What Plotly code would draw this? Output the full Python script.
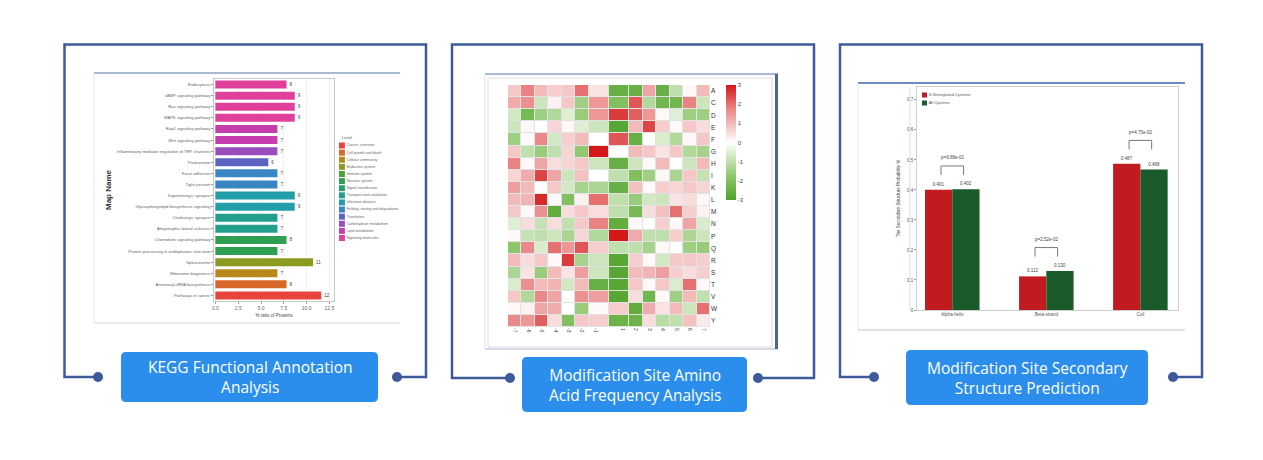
import plotly.graph_objects as go

W, H = 1263, 460


def X(p):
    return p / W


def Y(p):
    return 1 - p / H


# ---------------- Panel 1: KEGG functional annotation ----------------
kegg_pathways = [
    "Endocytosis", "cAMP signaling pathway", "Ras signaling pathway",
    "MAPK signaling pathway", "Rap1 signaling pathway", "Wnt signaling pathway",
    "Inflammatory mediator regulation of TRP channels", "Proteasome",
    "Focal adhesion", "Tight junction", "Dopaminergic synapse",
    "Glycosphingolipid biosynthesis signaling", "Cholinergic synapse",
    "Amyotrophic lateral sclerosis", "Chemokine signaling pathway",
    "Protein processing in endoplasmic reticulum", "Spliceosome",
    "Ribosome biogenesis", "Aminoacyl-tRNA biosynthesis", "Pathways in cancer",
]
kegg_ratio = [7.8, 8.7, 8.7, 8.7, 6.8, 6.8, 6.8, 5.8, 6.8, 6.8,
              8.7, 8.7, 6.8, 6.8, 7.8, 6.8, 10.7, 6.8, 7.8, 11.6]
kegg_counts = [8, 9, 9, 9, 7, 7, 7, 6, 7, 7, 9, 9, 7, 7, 8, 7, 11, 7, 8, 12]
kegg_class_idx = [13, 13, 13, 13, 12, 12, 11, 10, 9, 9, 8, 8, 7, 7, 5, 5, 3, 2, 1, 0]
kegg_classes = [
    "Cancer: overview", "Cell growth and death", "Cellular community",
    "Endocrine system", "Immune system", "Nervous system",
    "Signal transduction", "Transport and catabolism", "Infectious disease",
    "Folding, sorting and degradation", "Translation",
    "Carbohydrate metabolism", "Lipid metabolism", "Signaling molecules",
]
kegg_palette = [
    "#e8443c", "#d8682a", "#b8881e", "#8c9a22", "#4ea23e", "#2fa052",
    "#26a070", "#22a08c", "#229ea8", "#3a86c4", "#5c62c0", "#9a4cbc",
    "#c63eae", "#e0409c",
]
kegg_xticks = [0, 2.5, 5, 7.5, 10, 12.5]
kegg_xticktext = ["0.0", "2.5", "5.0", "7.5", "10.0", "12.5"]

# ---------------- Panel 2: amino acid frequency heatmap ----------------
aa_rows = ["A", "C", "D", "E", "F", "G", "H", "I", "K", "L",
           "M", "N", "P", "Q", "R", "S", "T", "V", "W", "Y"]
aa_positions = ["-7", "-6", "-5", "-4", "-3", "-2", "-1",
                "1", "2", "3", "4", "5", "6", "7"]
aa_z = [
    [0.8, 1.8, 1.0, 0.7, 0.8, 2.0, 0.4, -2.5, -2.5, 1.3, -2.5, -1.0, 0.1, 1.0],
    [1.2, 1.6, -0.8, 0.2, 0.8, -1.5, 1.5, -2.0, 2.3, -1.2, -2.3, -2.3, 1.8, -0.8],
    [-0.7, -2.2, -1.5, -1.2, -0.5, -1.6, 1.5, 2.6, 2.2, 1.5, 0.1, -0.5, -1.5, -1.5],
    [-0.8, 0.1, 0.0, 0.6, 0.1, -0.5, -0.8, -2.8, 1.0, 2.5, 0.7, 0.1, 0.8, 0.5],
    [-1.5, 0.1, 1.7, -0.7, 0.7, 1.0, 0.0, 2.3, -2.5, 0.0, -0.6, -1.2, 0.1, 0.8],
    [0.8, -1.0, -1.6, -1.0, 0.6, -1.7, 3.0, 0.0, 1.0, 0.8, 0.4, 0.8, -1.2, -1.4],
    [1.8, 0.1, 1.3, 0.5, 0.6, 0.8, -0.8, -2.5, -0.8, 0.1, 1.0, 0.0, -0.8, 1.0],
    [0.6, 1.2, 2.5, 1.3, -0.8, 0.9, 0.0, -1.0, -2.0, -1.5, 0.1, -1.3, 0.8, -0.9],
    [1.4, 1.0, 0.0, 0.8, -0.7, -1.4, -1.3, -2.5, 0.9, 0.1, 0.7, 0.6, 0.8, 0.6],
    [1.0, 1.1, 2.8, 0.1, -2.0, 0.2, 2.0, -1.0, -1.6, -0.7, -0.8, 0.4, 0.5, 0.1],
    [0.8, 0.1, 1.6, -2.6, 0.5, 0.8, 0.5, -1.0, -2.2, 0.5, 0.9, 2.0, 0.7, 0.2],
    [-0.5, 0.5, -0.9, 0.5, -1.0, 0.8, 1.8, -2.6, 0.1, 0.0, 0.7, 0.1, 1.3, -0.6],
    [0.1, -0.9, -1.0, -0.8, -1.3, 0.6, -1.2, 3.0, 1.2, -1.0, -1.0, 0.7, -1.3, -0.8],
    [-1.8, 1.7, -0.6, 2.0, 1.5, 2.3, 0.7, -1.0, -1.0, -1.4, 0.1, 0.0, -1.5, -1.6],
    [1.0, 0.5, 0.8, 0.1, 2.6, -1.4, -0.8, -2.8, 0.7, 0.1, -0.7, 0.8, 0.8, 0.7],
    [-1.3, 0.4, -1.6, 1.0, 0.4, 1.4, -0.8, -2.8, 1.0, 1.1, 1.4, 0.7, 0.5, 0.7],
    [-0.6, 1.6, 1.0, 1.1, -0.7, 1.0, -2.5, -2.8, 0.8, 0.1, 0.8, -0.6, 2.0, 0.1],
    [0.8, -1.2, 1.7, 1.3, 0.0, 1.6, 1.4, -2.8, 0.5, -2.3, 0.1, -1.5, 1.0, -1.0],
    [0.1, 0.2, 1.3, 1.2, 0.0, -1.6, 0.1, 0.7, -2.6, 1.2, 0.4, 1.0, -0.8, 2.0],
    [1.7, 1.5, 2.2, 0.5, -2.0, 0.8, 0.7, -2.4, -2.4, 0.5, -1.1, -1.0, 0.9, 0.3],
]
aa_colorbar_ticks = [3, 2, 1, 0, -1, -2, -3]
aa_colorbar_text = ["3", "2", "1", "0", "-1", "-2", "-3"]

# ---------------- Panel 3: secondary structure ----------------
ss_categories = ["Alpha-helix", "Beta-strand", "Coil"]
ss_groups = ["S-Nitrosylated Cysteine", "All Cysteine"]
ss_modified = [0.401, 0.112, 0.487]
ss_background = [0.402, 0.130, 0.468]
ss_pvalues = ["p=9.88e-01", "p=2.52e-02", "p=4.75e-02"]
ss_yticks = [0, 0.1, 0.2, 0.3, 0.4, 0.5, 0.6, 0.7]
ss_yticktext = ["0", "0.1", "0.2", "0.3", "0.4", "0.5", "0.6", "0.7"]

# ---------------- Captions ----------------
captions = [
    "KEGG Functional Annotation<br>Analysis",
    "Modification Site Amino<br>Acid Frequency Analysis",
    "Modification Site Secondary<br>Structure Prediction",
]

SMALL = "Liberation Sans, Arial, sans-serif"
FRAME = "#3d5a9b"
BOX = "#2b8eec"
RED = "#c21b1f"
GREEN = "#1b5a2b"

fig = go.Figure()

# Panel 1 bars
fig.add_trace(go.Bar(
    orientation="h", y=kegg_pathways, x=kegg_ratio,
    marker=dict(color=[kegg_palette[i] for i in kegg_class_idx], line_width=0),
    width=0.72, text=[str(c) for c in kegg_counts], textposition="outside",
    textfont=dict(size=4.5, color="#444", family=SMALL), cliponaxis=False,
    xaxis="x", yaxis="y", showlegend=False, hoverinfo="skip",
))
# Panel 1 legend (swatches)
fig.add_trace(go.Scatter(
    x=[0] * len(kegg_classes), y=list(range(len(kegg_classes))),
    mode="markers+text", text=kegg_classes, textposition="middle right",
    textfont=dict(size=3.6, color="#666", family=SMALL),
    marker=dict(symbol="square", size=6, color=kegg_palette, line_width=0),
    xaxis="x2", yaxis="y2", showlegend=False, hoverinfo="skip",
))

# Panel 2 heatmap
fig.add_trace(go.Heatmap(
    z=aa_z, x=aa_positions, y=aa_rows, zmin=-3, zmax=3,
    colorscale=[[0, "#4ea12a"], [0.2, "#8cc56a"], [0.5, "#ffffff"],
                [0.8, "#e98282"], [1, "#d41717"]],
    xgap=1, ygap=1, xaxis="x3", yaxis="y3", hoverinfo="skip",
    colorbar=dict(
        x=X(726), xanchor="left", y=Y(85), yanchor="top",
        len=115 / H, lenmode="fraction", thickness=10,
        tickvals=aa_colorbar_ticks, ticktext=aa_colorbar_text, ticks="",
        outlinewidth=0, xpad=0, ypad=0,
        tickfont=dict(size=6, color="#444", family=SMALL),
    ),
))

# Panel 3 bars
fig.add_trace(go.Bar(
    x=ss_categories, y=ss_modified, name=ss_groups[0],
    marker=dict(color=RED, line_width=0), width=0.29, offset=-0.29,
    text=[f"{v:.3f}" for v in ss_modified], textposition="outside",
    textfont=dict(size=4.5, color="#444", family=SMALL), cliponaxis=False,
    xaxis="x4", yaxis="y4", showlegend=False, hoverinfo="skip",
))
fig.add_trace(go.Bar(
    x=ss_categories, y=ss_background, name=ss_groups[1],
    marker=dict(color=GREEN, line_width=0), width=0.29, offset=0,
    text=[f"{v:.3f}" for v in ss_background], textposition="outside",
    textfont=dict(size=4.5, color="#444", family=SMALL), cliponaxis=False,
    xaxis="x4", yaxis="y4", showlegend=False, hoverinfo="skip",
))
# Panel 3 legend
fig.add_trace(go.Scatter(
    x=[1, 1], y=[1, 0], mode="markers+text", text=ss_groups,
    textposition="middle right",
    textfont=dict(size=4, color="#555", family=SMALL),
    marker=dict(symbol="square", size=5, color=[RED, GREEN], line_width=0),
    xaxis="x5", yaxis="y5", showlegend=False, hoverinfo="skip",
))

shapes = []
annotations = []

# Frames with dots
frames = [
    (64.5, 426, 44.5, 377, 98, 397),
    (452, 814, 44.5, 378, 510, 758),
    (840, 1202, 44.5, 377, 874, 1173),
]
for (L, R, T, B, dl, dr) in frames:
    path = (f"M {X(dl)},{Y(B)} L {X(L)},{Y(B)} L {X(L)},{Y(T)} "
            f"L {X(R)},{Y(T)} L {X(R)},{Y(B)} L {X(dr)},{Y(B)}")
    shapes.append(dict(type="path", xref="paper", yref="paper", path=path,
                       line=dict(color=FRAME, width=2.5)))
    for cx in (dl, dr):
        shapes.append(dict(type="circle", xref="paper", yref="paper",
                           x0=X(cx - 5), x1=X(cx + 5), y0=Y(B + 5), y1=Y(B - 5),
                           fillcolor=FRAME, line=dict(width=0)))


def rrect(x0, y0, x1, y1, r):
    return (f"M {X(x0 + r)},{Y(y0)} L {X(x1 - r)},{Y(y0)} "
            f"Q {X(x1)},{Y(y0)} {X(x1)},{Y(y0 + r)} L {X(x1)},{Y(y1 - r)} "
            f"Q {X(x1)},{Y(y1)} {X(x1 - r)},{Y(y1)} L {X(x0 + r)},{Y(y1)} "
            f"Q {X(x0)},{Y(y1)} {X(x0)},{Y(y1 - r)} L {X(x0)},{Y(y0 + r)} "
            f"Q {X(x0)},{Y(y0)} {X(x0 + r)},{Y(y0)} Z")


boxes = [(121, 352, 378, 402), (522, 357, 747, 412), (906, 350, 1148, 405)]
for (bx0, by0, bx1, by1), cap in zip(boxes, captions):
    shapes.append(dict(type="path", xref="paper", yref="paper",
                       path=rrect(bx0, by0, bx1, by1, 5),
                       fillcolor=BOX, line=dict(width=0)))
    annotations.append(dict(
        xref="paper", yref="paper", x=X((bx0 + bx1) / 2), y=Y((by0 + by1) / 2),
        xanchor="center", yanchor="middle", showarrow=False, text=cap,
        font=dict(family="Open Sans, sans-serif", size=15.5, color="white"),
    ))


def hline(x0, x1, y, color, w):
    shapes.append(dict(type="line", xref="paper", yref="paper",
                       x0=X(x0), x1=X(x1), y0=Y(y), y1=Y(y),
                       line=dict(color=color, width=w)))


def vline(x, y0, y1, color, w):
    shapes.append(dict(type="line", xref="paper", yref="paper",
                       x0=X(x), x1=X(x), y0=Y(y0), y1=Y(y1),
                       line=dict(color=color, width=w)))


# Screenshot-like image borders
hline(94, 400, 73, "#8ea2c8", 1.5)
vline(94, 73, 323, "#dde2ea", 1)
hline(94, 400, 323, "#d6dbe4", 1)

hline(485, 778, 74, "#8ea2c8", 1.5)
vline(485, 74, 349, "#dde2ea", 1)
hline(485, 778, 349, "#a9b6cf", 1.2)
vline(776.5, 74, 349, "#4d6699", 3)
shapes.append(dict(type="rect", xref="paper", yref="paper",
                   x0=X(488), x1=X(772), y0=Y(347), y1=Y(78),
                   line=dict(color="#dcdcdc", width=1), fillcolor="rgba(0,0,0,0)"))

hline(858, 1185, 83, "#6f8cc0", 2)
vline(858, 83, 330, "#dde2ea", 1)
hline(858, 1185, 330, "#b9c3d6", 1.2)
vline(910, 87, 310, "#cfe5cf", 1)

# Heatmap cell-gap background
shapes.append(dict(type="rect", xref="x3 domain", yref="y3 domain",
                   x0=0, x1=1, y0=0, y1=1, fillcolor="#e2e2e2",
                   line=dict(width=0), layer="below"))

# Panel 3 p-value brackets
for i, (a, b, p) in enumerate(zip(ss_modified, ss_background, ss_pvalues)):
    top = max(a, b) + 0.078
    shapes.append(dict(type="path", xref="x4", yref="y4",
                       path=f"M {i - 0.12},{top - 0.03} L {i - 0.12},{top} "
                            f"L {i + 0.12},{top} L {i + 0.12},{top - 0.03}",
                       line=dict(color="#555", width=0.8)))
    annotations.append(dict(xref="x4", yref="y4", x=i, y=top + 0.027,
                            text=p, showarrow=False,
                            font=dict(size=4.5, color="#444", family=SMALL)))

# Panel 1 legend title
annotations.append(dict(xref="x2", yref="y2", x=-0.3, y=-1.15, xanchor="left",
                        text="Level", showarrow=False,
                        font=dict(size=4, color="#555", family=SMALL)))

axis_common = dict(automargin=False, zeroline=False)

fig.update_layout(
    width=W, height=H, margin=dict(l=0, r=0, t=0, b=0),
    template="none", paper_bgcolor="white", plot_bgcolor="white",
    barmode="overlay", showlegend=False,
    font=dict(family=SMALL, color="#444"),
    shapes=shapes, annotations=annotations,
    xaxis=dict(domain=[X(214), X(334)], anchor="y", range=[-0.15, 13.0],
               tickvals=kegg_xticks, ticktext=kegg_xticktext,
               tickfont=dict(size=5, color="#666"), ticks="outside", ticklen=2,
               tickcolor="#999", showgrid=True, gridcolor="#f1f1f1",
               showline=True, mirror=True, linecolor="#c8c8c8", linewidth=0.8,
               title=dict(text="% ratio of Proteins", standoff=3,
                          font=dict(size=4.5, color="#444")),
               **axis_common),
    yaxis=dict(domain=[Y(301), Y(79)], anchor="x", autorange="reversed",
               tickfont=dict(size=4.2, color="#666"), ticks="outside", ticklen=2,
               tickcolor="#999", showline=True, mirror=True, linecolor="#c8c8c8",
               linewidth=0.8, showgrid=False,
               title=dict(text="<b>Map Name</b>", standoff=4,
                          font=dict(size=8, color="#333")),
               **axis_common),
    xaxis2=dict(domain=[X(339), X(400)], anchor="y2", range=[-0.5, 10],
                visible=False, **axis_common),
    yaxis2=dict(domain=[Y(242), Y(132)], anchor="x2", range=[13.56, -1.9],
                visible=False, **axis_common),
    xaxis3=dict(domain=[X(508), X(710)], anchor="y3", tickangle=90,
                tickmode="array", tickvals=aa_positions, ticktext=aa_positions,
                tickfont=dict(size=5, color="#444"), ticks="", showgrid=False,
                showline=False, **axis_common),
    yaxis3=dict(domain=[Y(327), Y(85)], anchor="x3", autorange="reversed",
                tickmode="array", tickvals=aa_rows, ticktext=aa_rows,
                side="right", tickfont=dict(size=6.5, color="#333"), ticks="",
                showgrid=False, showline=False, **axis_common),
    xaxis4=dict(domain=[X(917), X(1178)], anchor="y4", range=[-0.375, 2.4],
                type="category", tickfont=dict(size=4.5, color="#555"), ticks="",
                showgrid=False, showline=True, mirror=True, linecolor="#cfcfcf",
                linewidth=0.8, **axis_common),
    yaxis4=dict(domain=[Y(310), Y(87)], anchor="x4", range=[0, 0.743],
                tickvals=ss_yticks, ticktext=ss_yticktext,
                tickfont=dict(size=4.5, color="#555"), ticks="outside", ticklen=2,
                tickcolor="#999", showgrid=False, showline=True, mirror=True,
                linecolor="#cfcfcf", linewidth=0.8,
                title=dict(text="The Secondary Structure Probability %", standoff=6,
                           font=dict(size=4.5, color="#444")),
                **axis_common),
    xaxis5=dict(domain=[X(920), X(1010)], anchor="y5", range=[0, 20],
                visible=False, **axis_common),
    yaxis5=dict(domain=[Y(107), Y(91)], anchor="x5", range=[-0.5, 1.5],
                visible=False, **axis_common),
)

fig.write_html("out.html", config={"displayModeBar": False},
               post_script="document.body.style.margin='0';")
